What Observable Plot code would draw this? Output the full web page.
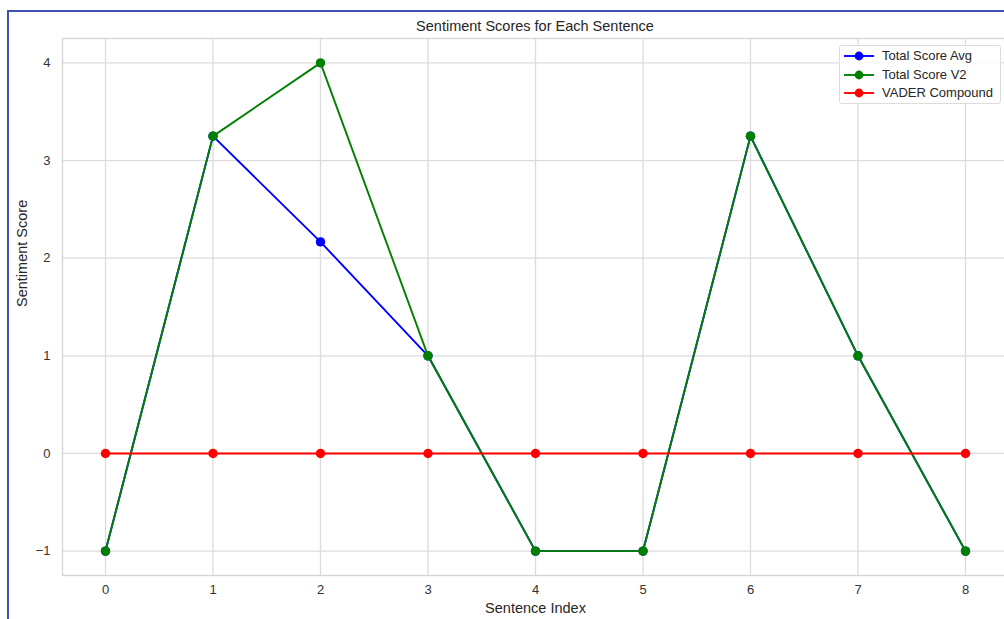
<!DOCTYPE html>
<html>
<head>
<meta charset="utf-8">
<script src="https://cdn.jsdelivr.net/npm/d3@7"></script>
<script src="https://cdn.jsdelivr.net/npm/@observablehq/plot@0.6"></script>
<style>
  html, body { margin: 0; padding: 0; background: #fff; }
  #wrap { position: relative; width: 1004px; height: 619px; overflow: hidden; font-family: "Liberation Sans", Arial, sans-serif; }
  #title { height: 16px; padding-top: 18px; line-height: 16px; font-size: 14.5px; color: #262626; text-align: center; width: 1070px; box-sizing: content-box; }
  #chart { position: absolute; left: 0; top: 34px; width: 1012px; }
  #chart svg { max-width: none !important; width: 1012px; height: 585px; }
  #border { position: absolute; left: 7px; top: 10px; width: 1100px; height: 700px; border-left: 2px solid #3f51b5; border-top: 2px solid #3f51b5; pointer-events: none; }
  #legend { position: absolute; left: 839px; top: 45px; width: 162px; height: 59px; background: rgba(255,255,255,0.85); border: 1px solid #dcdcdc; border-radius: 3px; box-sizing: border-box; }
  .item { position: absolute; left: 0; height: 18px; width: 100%; font-size: 13px; color: #262626; }
  .item svg { position: absolute; left: 3px; top: 0; }
  .item span { position: absolute; left: 42px; top: 1px; line-height: 16px; white-space: nowrap; }
</style>
</head>
<body>
<div id="wrap">
  <div id="title">Sentiment Scores for Each Sentence</div>
  <div id="chart"></div>
  <div id="legend"></div>
  <div id="border"></div>
</div>
<script>
// ---- data ----
const sentenceIndex = [0, 1, 2, 3, 4, 5, 6, 7, 8];
const totalScoreAvg = [-1, 3.25, 2.1667, 1, -1, -1, 3.25, 1, -1];
const totalScoreV2 = [-1, 3.25, 4, 1, -1, -1, 3.25, 1, -1];
const vaderCompound = [0, 0, 0, 0, 0, 0, 0, 0, 0];
const seriesNames = ["Total Score Avg", "Total Score V2", "VADER Compound"];
const seriesColors = ["#0000ff", "#008000", "#ff0000"];
const xTicks = [0, 1, 2, 3, 4, 5, 6, 7, 8];
const yTicks = [-1, 0, 1, 2, 3, 4];
const yTickLabels = ["−1", "0", "1", "2", "3", "4"];

const seriesValues = [totalScoreAvg, totalScoreV2, vaderCompound];
const rows = [];
seriesValues.forEach((vals, s) => {
  vals.forEach((v, i) => rows.push({series: seriesNames[s], x: sentenceIndex[i], y: v}));
});

const width = 1012, height = 585;
const lineMarks = [];
seriesNames.forEach((name, s) => {
  const d = rows.filter(r => r.series === name);
  lineMarks.push(Plot.line(d, {x: "x", y: "y", stroke: seriesColors[s], strokeWidth: 1.9}));
  lineMarks.push(Plot.dot(d, {x: "x", y: "y", fill: seriesColors[s], r: 4.7, stroke: "none"}));
});

const chart = Plot.plot({
  width, height,
  marginLeft: 62, marginRight: 4, marginTop: 4, marginBottom: 44,
  style: {fontFamily: "'Liberation Sans', Arial, sans-serif", fontSize: "13px", color: "#333", background: "transparent", maxWidth: "none"},
  x: {domain: [-0.4, 8.4], ticks: xTicks, tickSize: 0, tickPadding: 9, label: null, tickFormat: d => String(d)},
  y: {domain: [-1.25, 4.25], ticks: yTicks, tickSize: 0, tickPadding: 12, label: null,
      tickFormat: d => yTickLabels[yTicks.indexOf(d)]},
  marks: [
    Plot.gridX(xTicks, {stroke: "#dcdcdc", strokeOpacity: 1, strokeWidth: 1.3}),
    Plot.gridY(yTicks, {stroke: "#dcdcdc", strokeOpacity: 1, strokeWidth: 1.3}),
    Plot.frame({stroke: "#d4d4d4", strokeWidth: 1.3}),
    ...lineMarks,
    Plot.text(["Sentiment Score"], {frameAnchor: "left", dx: -40, rotate: -90, fontSize: 14.5, fill: "#262626"}),
    Plot.text(["Sentence Index"], {frameAnchor: "bottom", dy: 37, fontSize: 14.5, fill: "#262626"})
  ]
});
document.getElementById("chart").appendChild(chart);

// legend
const legend = document.getElementById("legend");
seriesNames.forEach((name, s) => {
  const it = document.createElement("div");
  it.className = "item";
  it.style.top = (1 + s * 18.5) + "px";
  it.innerHTML = `<svg width="32" height="18"><line x1="1" y1="9" x2="31" y2="9" stroke="${seriesColors[s]}" stroke-width="1.9"/><circle cx="16" cy="9" r="4.4" fill="${seriesColors[s]}"/></svg><span>${name}</span>`;
  legend.appendChild(it);
});
</script>
</body>
</html>
